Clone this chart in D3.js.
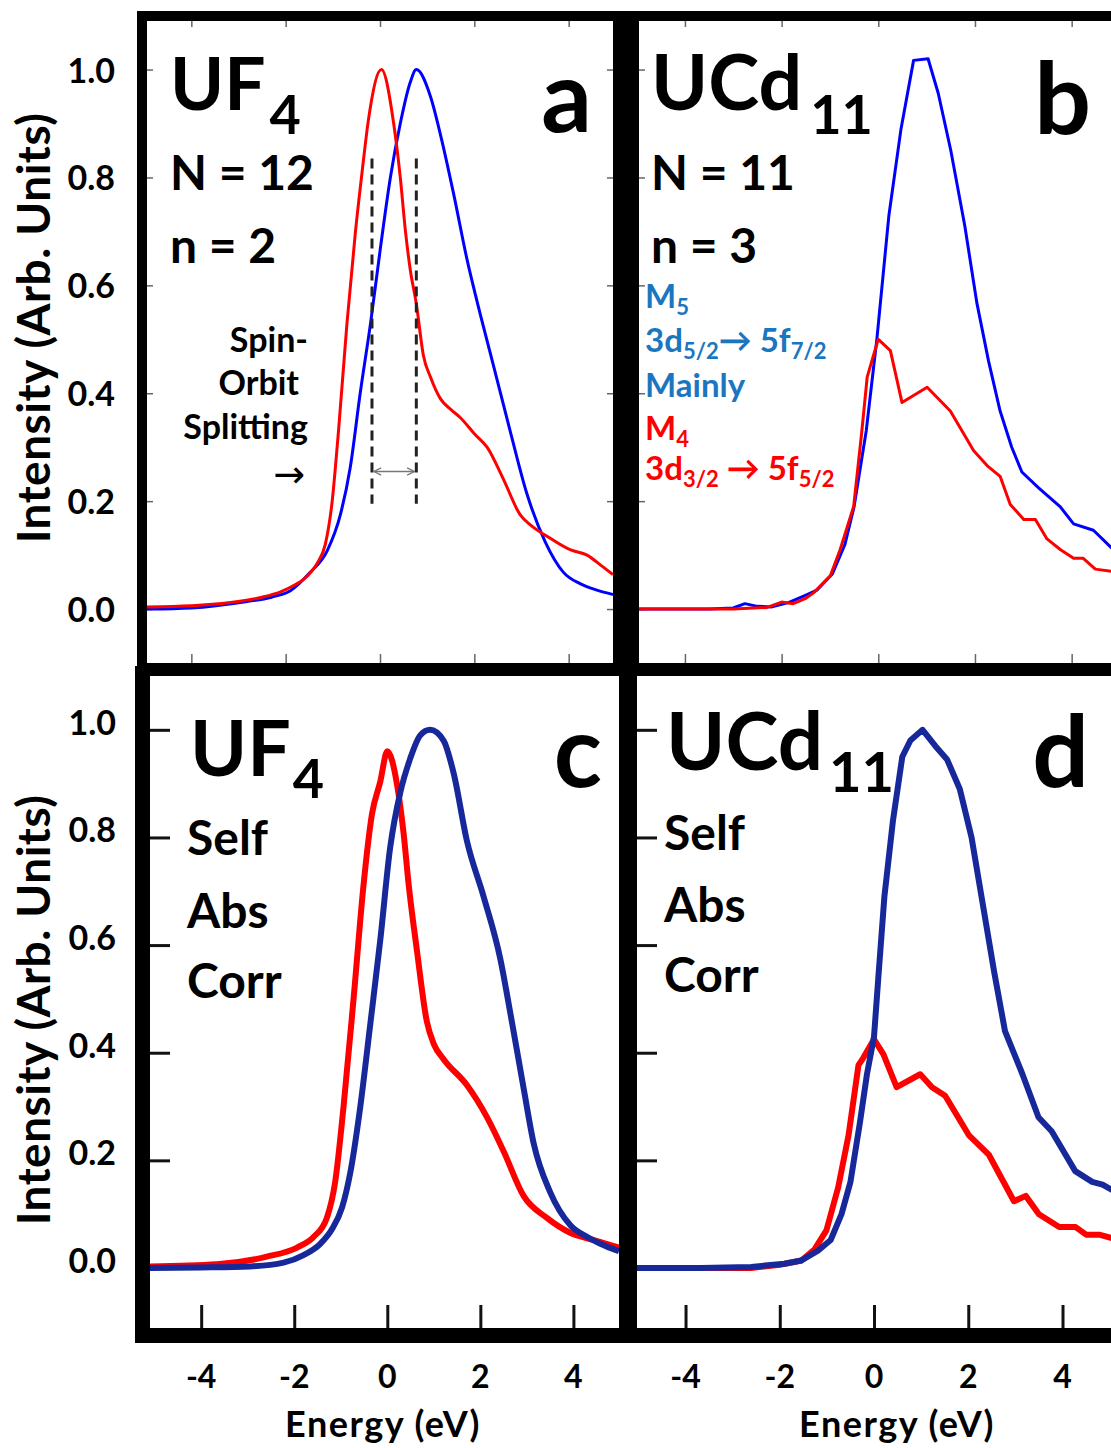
<!DOCTYPE html>
<html>
<head>
<meta charset="utf-8">
<script src="https://cdn.jsdelivr.net/npm/d3@7"></script>
<style>
body { margin: 0; background: #fff; }
svg { display: block; font-family: Lato, "Open Sans", sans-serif; font-weight: bold; }
</style>
</head>
<body>
<svg id="chart" width="1111" height="1448"></svg>
<script>
// tick values shared by all four panels
var xTicks = [-4, -2, 0, 2, 4]
var yTicks = [0, 0.2, 0.4, 0.6, 0.8, 1.0]
var yTickLabels = ["0.0", "0.2", "0.4", "0.6", "0.8", "1.0"]
var xTickLabels = ["-4", "-2", "0", "2", "4"]

// panel a : UF4, raw spectra  [energy eV, intensity]
var uf4RawBlue = [[-4.94,0.0],[-4,0.002],[-2.82,0.014],[-2.3,0.022],[-1.9,0.034],[-1.48,0.068],[-1.12,0.108],[-0.84,0.175],[-0.63,0.263],[-0.42,0.40],[-0.2,0.53],[0.01,0.67],[0.22,0.80],[0.43,0.90],[0.64,0.976],[0.77,1.0],[1.07,0.95],[1.28,0.88],[1.56,0.77],[1.84,0.65],[2.13,0.545],[2.41,0.45],[2.76,0.33],[3.11,0.215],[3.5,0.125],[3.89,0.068],[4.24,0.047],[4.6,0.035],[4.94,0.027]]
var uf4RawRed = [[-4.94,0.004],[-4,0.006],[-3.17,0.012],[-2.5,0.022],[-2.11,0.032],[-1.8,0.045],[-1.62,0.055],[-1.45,0.07],[-1.33,0.085],[-1.16,0.12],[-1.02,0.195],[-0.88,0.33],[-0.7,0.53],[-0.52,0.70],[-0.38,0.81],[-0.24,0.91],[0.03,1.0],[0.29,0.90],[0.43,0.80],[0.54,0.70],[0.64,0.63],[0.77,0.566],[0.92,0.47],[1.07,0.43],[1.28,0.39],[1.5,0.37],[1.70,0.355],[2.0,0.325],[2.27,0.30],[2.62,0.24],[2.97,0.175],[3.2,0.155],[3.54,0.135],[4.03,0.11],[4.39,0.10],[4.7,0.08],[4.94,0.064]]

// panel b : UCd11, raw spectra
var ucdRawBlue = [[-4.95,0.0],[-3.5,0.0],[-3.0,0.002],[-2.76,0.01],[-2.5,0.005],[-2.2,0.004],[-1.86,0.012],[-1.52,0.025],[-1.27,0.035],[-0.95,0.065],[-0.69,0.12],[-0.5,0.19],[-0.25,0.33],[-0.03,0.50],[0.22,0.73],[0.47,0.89],[0.73,1.017],[1.03,1.02],[1.24,0.956],[1.5,0.85],[1.79,0.71],[2.04,0.567],[2.28,0.46],[2.52,0.367],[2.76,0.30],[2.97,0.254],[3.31,0.225],[3.76,0.19],[4.04,0.158],[4.45,0.146],[4.82,0.114],[5.0,0.10]]
var ucdRawRed = [[-4.95,0.0],[-3.0,0.0],[-2.3,0.003],[-2.0,0.013],[-1.76,0.01],[-1.5,0.02],[-1.34,0.03],[-0.99,0.062],[-0.79,0.11],[-0.51,0.19],[-0.34,0.33],[-0.23,0.43],[-0.1,0.47],[0.0,0.50],[0.25,0.479],[0.49,0.383],[1.01,0.411],[1.49,0.367],[1.97,0.294],[2.25,0.266],[2.52,0.246],[2.73,0.194],[3.01,0.166],[3.25,0.166],[3.49,0.13],[3.77,0.11],[4.04,0.094],[4.24,0.094],[4.49,0.074],[4.82,0.07],[5.0,0.068]]

// panel c : UF4, self absorption corrected
var uf4CorrBlue = [[-5.1,0.0],[-4,0.001],[-2.95,0.003],[-2.23,0.01],[-1.8,0.024],[-1.44,0.045],[-1.19,0.072],[-0.97,0.113],[-0.8,0.175],[-0.58,0.30],[-0.37,0.45],[-0.15,0.61],[0.06,0.78],[0.28,0.884],[0.49,0.946],[0.71,0.99],[0.92,1.0],[1.21,0.98],[1.43,0.918],[1.71,0.794],[2.07,0.69],[2.43,0.574],[2.65,0.471],[2.93,0.334],[3.15,0.23],[3.5,0.141],[3.94,0.079],[4.29,0.058],[4.58,0.045],[4.98,0.031]]
var uf4CorrRed = [[-5.1,0.003],[-3.66,0.007],[-2.59,0.021],[-1.94,0.038],[-1.58,0.058],[-1.30,0.093],[-1.12,0.16],[-0.94,0.30],[-0.72,0.505],[-0.51,0.712],[-0.33,0.843],[-0.15,0.904],[0.0,0.96],[0.21,0.898],[0.35,0.808],[0.46,0.712],[0.64,0.588],[0.85,0.458],[1.0,0.416],[1.21,0.388],[1.71,0.34],[2.15,0.279],[2.5,0.217],[2.93,0.134],[3.43,0.093],[3.94,0.065],[4.44,0.052],[4.98,0.038]]

// panel d : UCd11, self absorption corrected
var ucdCorrBlue = [[-5.03,0.0],[-3.67,0.0],[-2.61,0.002],[-1.9,0.008],[-1.54,0.014],[-1.19,0.032],[-0.92,0.052],[-0.69,0.1],[-0.5,0.16],[-0.3,0.27],[-0.15,0.36],[0.0,0.43],[0.1,0.55],[0.22,0.69],[0.4,0.83],[0.6,0.95],[0.77,0.98],[1.03,1.0],[1.3,0.97],[1.55,0.945],[1.82,0.89],[2.07,0.80],[2.32,0.67],[2.55,0.55],[2.78,0.44],[3.15,0.36],[3.49,0.28],[3.77,0.254],[4.27,0.18],[4.63,0.16],[4.85,0.155],[5.07,0.144],[5.22,0.138]]
var ucdCorrRed = [[-5.03,0.0],[-2.61,0.0],[-2.0,0.006],[-1.54,0.014],[-1.26,0.035],[-1.01,0.07],[-0.76,0.15],[-0.54,0.247],[-0.33,0.377],[-0.23,0.39],[0.0,0.425],[0.2,0.397],[0.48,0.336],[0.98,0.36],[1.23,0.336],[1.51,0.32],[2.01,0.247],[2.44,0.21],[2.97,0.124],[3.22,0.134],[3.5,0.1],[3.93,0.076],[4.28,0.076],[4.5,0.062],[4.78,0.062],[5.07,0.055],[5.22,0.052]]

// spin-orbit splitting markers in panel a (energies, and intensity span)
var splitEnergies = [-0.17, 0.77]
var splitSpan = [0.195, 0.835]
var splitArrowLevel = 0.255

var svg = d3.select("#chart")

var defs = svg.append("defs")
defs.append("marker")
    .attr("id", "chev")
    .attr("viewBox", "0 0 10 10")
    .attr("refX", 9).attr("refY", 5)
    .attr("markerWidth", 9).attr("markerHeight", 9)
    .attr("markerUnits", "userSpaceOnUse")
    .attr("orient", "auto-start-reverse")
    .append("path")
    .attr("d", "M1,1 L9,5 L1,9")
    .style("fill", "none").style("stroke", "#777").style("stroke-width", 1.5)

var panels = [
    {id: "a", inner: [147, 613, 21, 663], outer: [137, 639, 11, 673],
     xDom: [-4.94, 4.94], yDom: [-0.1, 1.09],
     series: [[uf4RawBlue, "#0000ff"], [uf4RawRed, "#ff0000"]], lw: 3, curve: d3.curveMonotoneX,
     ticks: {sides: ["left", "right", "top", "bottom"], len: 6, color: "#666", w: 1.5},
     formula: ["UF", "4"], fx: 170, fy: 110, fSize: 73, subSize: 54, subDx: 4, subDy: 24,
     lines: ["N = 12", "n = 2"], lx: 170, ly: [190, 263], lSize: 48,
     letter: "a", letX: 592, letY: 132},
    {id: "b", inner: [639, 1120, 21, 663], outer: [613, 1130, 11, 673],
     xDom: [-4.95, 5.0], yDom: [-0.1, 1.09],
     series: [[ucdRawBlue, "#0000ff"], [ucdRawRed, "#ff0000"]], lw: 3, curve: d3.curveLinear,
     ticks: {sides: ["left", "top", "bottom"], len: 6, color: "#666", w: 1.5},
     formula: ["UCd", "11"], fx: 651, fy: 110, fSize: 77, subSize: 54, subDx: 8, subDy: 24,
     lines: ["N = 11", "n = 3"], lx: 651, ly: [190, 263], lSize: 48,
     letter: "b", letX: 1091, letY: 134},
    {id: "c", inner: [150, 619, 676, 1328], outer: [135, 637, 666, 1343],
     xDom: [-5.1, 4.98], yDom: [-0.1115, 1.1],
     series: [[uf4CorrRed, "#ff0000"], [uf4CorrBlue, "#17299a"]], lw: 6, curve: d3.curveMonotoneX,
     ticks: {sides: ["left", "bottom"], len: 20, color: "#111", w: 3},
     formula: ["UF", "4"], fx: 190, fy: 776, fSize: 77, subSize: 54, subDx: 2, subDy: 22,
     lines: ["Self", "Abs", "Corr"], lx: 187, ly: [855, 928, 998], lSize: 48,
     letter: "c", letX: 602, letY: 787},
    {id: "d", inner: [637, 1120, 676, 1328], outer: [619, 1130, 666, 1343],
     xDom: [-5.03, 5.22], yDom: [-0.1115, 1.1],
     series: [[ucdCorrRed, "#ff0000"], [ucdCorrBlue, "#17299a"]], lw: 6, curve: d3.curveLinear,
     ticks: {sides: ["left", "bottom"], len: 20, color: "#111", w: 3},
     formula: ["UCd", "11"], fx: 666, fy: 770, fSize: 80, subSize: 56, subDx: 6, subDy: 22,
     lines: ["Self", "Abs", "Corr"], lx: 664, ly: [850, 922, 992], lSize: 48,
     letter: "d", letX: 1089, letY: 787}
]

panels.forEach(drawPanel)

function drawPanel(p) {
    var x0 = p.inner[0], x1 = p.inner[1], y0 = p.inner[2], y1 = p.inner[3]
    var xScale = d3.scaleLinear().domain(p.xDom).range([x0, x1])
    var yScale = d3.scaleLinear().domain(p.yDom).range([y1, y0])
    p.xScale = xScale
    p.yScale = yScale

    var g = svg.append("g").attr("id", "panel-" + p.id)

    defs.append("clipPath").attr("id", "clip-" + p.id)
        .append("rect")
        .attr("x", x0).attr("y", y0)
        .attr("width", x1 - x0).attr("height", y1 - y0)

    // ticks, pointing inward
    var t = p.ticks
    var tg = g.append("g").style("stroke", t.color).style("stroke-width", t.w)
    if (t.sides.indexOf("left") >= 0)
        tg.append("g").attr("transform", "translate(" + x0 + ",0)")
          .call(d3.axisRight(yScale).tickValues(yTicks).tickSize(t.len).tickFormat(""))
    if (t.sides.indexOf("right") >= 0)
        tg.append("g").attr("transform", "translate(" + x1 + ",0)")
          .call(d3.axisLeft(yScale).tickValues(yTicks).tickSize(t.len).tickFormat(""))
    if (t.sides.indexOf("top") >= 0)
        tg.append("g").attr("transform", "translate(0," + y0 + ")")
          .call(d3.axisBottom(xScale).tickValues(xTicks).tickSize(t.len).tickFormat(""))
    if (t.sides.indexOf("bottom") >= 0)
        tg.append("g").attr("transform", "translate(0," + y1 + ")")
          .call(d3.axisTop(xScale).tickValues(xTicks).tickSize(t.len + 3).tickFormat(""))
    tg.selectAll(".domain").remove()
    tg.selectAll(".tick line").style("stroke", t.color).style("stroke-width", t.w)

    // spectra
    var line = d3.line()
        .x(function(d) { return xScale(d[0]) })
        .y(function(d) { return yScale(d[1]) })
        .curve(p.curve)
    var cg = g.append("g").attr("clip-path", "url(#clip-" + p.id + ")")
    p.series.forEach(function(s) {
        cg.append("path")
          .datum(s[0])
          .attr("d", line)
          .style("fill", "none")
          .style("stroke", s[1])
          .style("stroke-width", p.lw)
          .style("stroke-linejoin", "round")
    })

    // thick black frame
    var o = p.outer
    g.append("path")
     .attr("d", "M" + o[0] + "," + o[2] + "H" + o[1] + "V" + o[3] + "H" + o[0] + "Z" +
                "M" + x0 + "," + y0 + "H" + x1 + "V" + y1 + "H" + x0 + "Z")
     .style("fill", "#000")
     .style("fill-rule", "evenodd")

    // labels inside the panel
    var f = g.append("text").attr("x", p.fx).attr("y", p.fy)
        .style("font-size", p.fSize + "px").style("fill", "#000")
    f.append("tspan").text(p.formula[0])
    f.append("tspan").attr("dx", p.subDx).attr("dy", p.subDy)
        .style("font-size", p.subSize + "px").text(p.formula[1])

    p.lines.forEach(function(txt, i) {
        g.append("text").attr("x", p.lx).attr("y", p.ly[i])
         .style("font-size", p.lSize + "px").text(txt)
    })

    g.append("text").attr("x", p.letX).attr("y", p.letY)
     .attr("text-anchor", "end")
     .style("font-size", "100px").text(p.letter)
}

// y tick labels, left column only
function yLabels(p, xRight, shift) {
    svg.append("g").selectAll("text")
       .data(yTicks).enter().append("text")
       .attr("x", xRight)
       .attr("y", function(d) { return p.yScale(d) + shift })
       .attr("text-anchor", "end")
       .style("font-size", "34px")
       .text(function(d, i) { return yTickLabels[i] })
}
yLabels(panels[0], 115, 13)
yLabels(panels[2], 116, 5)

// x tick labels under the bottom row
function xLabels(p) {
    svg.append("g").selectAll("text")
       .data(xTicks).enter().append("text")
       .attr("x", function(d) { return p.xScale(d) })
       .attr("y", 1388)
       .attr("text-anchor", "middle")
       .style("font-size", "32px")
       .text(function(d, i) { return xTickLabels[i] })
}
xLabels(panels[2])
xLabels(panels[3])

// axis titles
svg.append("text").attr("x", 383).attr("y", 1437).attr("text-anchor", "middle")
   .style("font-size", "36px").style("letter-spacing", "1.5px").text("Energy (eV)")
svg.append("text").attr("x", 897).attr("y", 1437).attr("text-anchor", "middle")
   .style("font-size", "36px").style("letter-spacing", "1.5px").text("Energy (eV)")
svg.append("text").attr("text-anchor", "middle")
   .attr("transform", "translate(50,328)rotate(-90)")
   .style("font-size", "46px").style("letter-spacing", "0.5px").text("Intensity (Arb. Units)")
svg.append("text").attr("text-anchor", "middle")
   .attr("transform", "translate(50,1010)rotate(-90)")
   .style("font-size", "46px").style("letter-spacing", "0.5px").text("Intensity (Arb. Units)")

// spin-orbit splitting annotation (panel a)
var pa = panels[0]
var sg = svg.append("g")
sg.selectAll("line.split")
  .data(splitEnergies).enter().append("line")
  .attr("x1", function(d) { return pa.xScale(d) })
  .attr("x2", function(d) { return pa.xScale(d) })
  .attr("y1", pa.yScale(splitSpan[1]))
  .attr("y2", pa.yScale(splitSpan[0]))
  .style("stroke", "#222").style("stroke-width", 3)
  .style("stroke-dasharray", "10,6")
sg.append("line")
  .attr("x1", pa.xScale(splitEnergies[0]) + 2)
  .attr("x2", pa.xScale(splitEnergies[1]) - 2)
  .attr("y1", pa.yScale(splitArrowLevel))
  .attr("y2", pa.yScale(splitArrowLevel))
  .attr("marker-start", "url(#chev)")
  .attr("marker-end", "url(#chev)")
  .style("stroke", "#777").style("stroke-width", 1.5)

var soText = ["Spin-", "Orbit", "Splitting"]
var soY = [352, 395, 439]
soText.forEach(function(s, i) {
    sg.append("text").attr("x", i == 1 ? 299 : 308).attr("y", soY[i])
      .attr("text-anchor", "end").style("font-size", "34px").text(s)
})
sg.append("text").attr("x", 305).attr("y", 487).attr("text-anchor", "end")
  .style("font-family", "'DejaVu Sans'").style("font-weight", "normal")
  .style("font-size", "38px").text("\u2192")

// transition annotation (panel b)
var noteLines = [
    {y: 308, color: "#1b76c0", parts: [["M", 0], ["5", 1]]},
    {y: 352, color: "#1b76c0", parts: [["3d", 0], ["5/2", 1], ["\u2192 5f", 0], ["7/2", 1]]},
    {y: 397, color: "#1b76c0", parts: [["Mainly", 0]]},
    {y: 440, color: "#ff0000", parts: [["M", 0], ["4", 1]]},
    {y: 480, color: "#ff0000", parts: [["3d", 0], ["3/2", 1], [" \u2192 5f", 0], ["5/2", 1]]}
]
noteLines.forEach(function(n) {
    var tx = svg.append("text").attr("x", 645).attr("y", n.y)
        .style("font-size", "33px").style("fill", n.color)
    var down = false
    n.parts.forEach(function(pt) {
        var ts = tx.append("tspan").text(pt[0])
        if (pt[1] && !down) { ts.attr("dy", 7).style("font-size", "22px"); down = true }
        else if (pt[1]) { ts.attr("dy", 7).style("font-size", "22px") }
        else if (down) { ts.attr("dy", -7); down = false }
    })
})
</script>
</body>
</html>
